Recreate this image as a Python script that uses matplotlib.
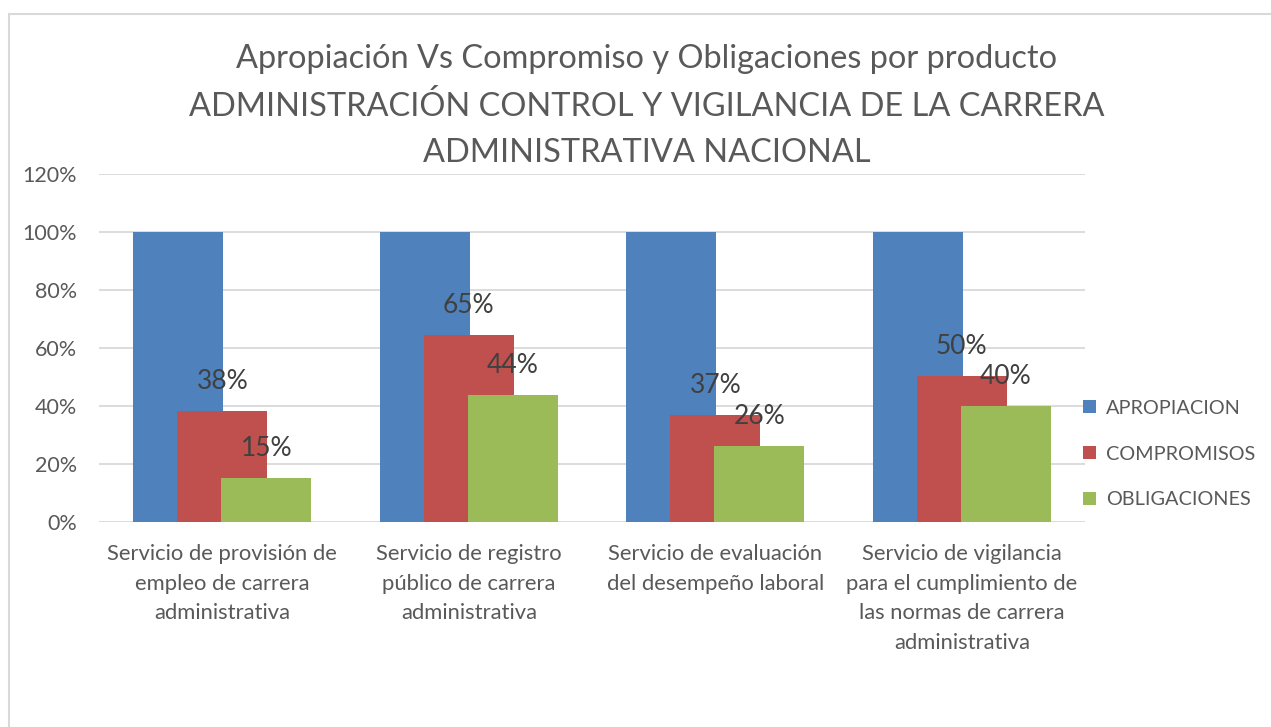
import numpy as np
import matplotlib
matplotlib.use('Agg')
import matplotlib.pyplot as plt
from matplotlib.patches import Rectangle
from matplotlib.ticker import PercentFormatter

#=====================Data===============
categories = ["Servicio de provisión de\nempleo de carrera\nadministrativa",
              "Servicio de registro\npúblico de carrera\nadministrativa",
              "Servicio de evaluación\ndel desempeño laboral",
              "Servicio de vigilancia\npara el cumplimiento de\nlas normas de carrera\nadministrativa"]
series_names = ["APROPIACION", "COMPROMISOS", "OBLIGACIONES"]
apropiacion = [1.00, 1.00, 1.00, 1.00]
compromisos = [0.383, 0.646, 0.369, 0.503]
obligaciones = [0.152, 0.438, 0.262, 0.400]
y_ticks = [0, 0.2, 0.4, 0.6, 0.8, 1.0, 1.2]

title = ("Apropiación Vs Compromiso y Obligaciones por producto\n"
         "ADMINISTRACIÓN CONTROL Y VIGILANCIA DE LA CARRERA\n"
         "ADMINISTRATIVA NACIONAL")

#=====================Style===============
plt.rcParams['font.family'] = ['Lato', 'DejaVu Sans']
colors = ['#4F81BD', '#C0504D', '#9BBB59']
txt_col = '#595959'
lab_col = '#404040'
grid_col = '#D9D9D9'

#=====================Plot===============
fig = plt.figure(figsize=(12.71, 7.27), dpi=100)
ax = fig.add_axes([0.0779, 0.2824, 0.8537 - 0.0779, 0.7607 - 0.2824])

x = np.arange(len(categories))
width = 0.365
step = 0.179
series = [apropiacion, compromisos, obligaciones]
for i, vals in enumerate(series):
    ax.bar(x + (i - 1) * step, vals, width, color=colors[i], label=series_names[i], zorder=2 + i)

# data labels only on compromisos and obligaciones
for i in [1, 2]:
    for xi, v in zip(x, series[i]):
        ax.annotate('{:.0f}%'.format(v * 100), (xi + (i - 1) * step, v), xytext=(0, 21),
                    textcoords='offset points', ha='center', va='center',
                    fontsize=19, color=lab_col, zorder=10)

ax.set_xlim(-0.5, len(categories) - 0.5)
ax.set_ylim(0, 1.2)
ax.set_yticks(y_ticks)
ax.yaxis.set_major_formatter(PercentFormatter(1.0, decimals=0))
ax.set_xticks(x)
ax.set_xticklabels(categories, linespacing=1.6)
ax.tick_params(axis='y', length=0, pad=16, labelsize=15.5, labelcolor=txt_col)
ax.tick_params(axis='x', length=0, pad=16, labelsize=15.8, labelcolor=txt_col)
ax.grid(axis='y', color=grid_col, linewidth=1.3, zorder=0)
ax.set_axisbelow(True)
for s in ax.spines.values():
    s.set_visible(False)

fig.text(647 / 1271, 1 - 106 / 727, title, ha='center', va='center',
         fontsize=23.4, color=txt_col, linespacing=1.66)

ax.legend(loc='center left', bbox_to_anchor=(1083 / 1271, 1 - 454 / 727),
          bbox_transform=fig.transFigure, frameon=False, fontsize=14.3,
          handlelength=0.65, handleheight=0.65, handletextpad=0.5,
          labelspacing=1.45, labelcolor=txt_col, borderpad=0, borderaxespad=0)

# outer chart border (only top and left visible)
fig.patches.append(Rectangle((8.5 / 1271, -0.1), 1.2, 1 - 13.5 / 727 + 0.1,
                             transform=fig.transFigure, fill=False,
                             edgecolor=grid_col, linewidth=1.5))

fig.savefig('out.png', dpi=100)
